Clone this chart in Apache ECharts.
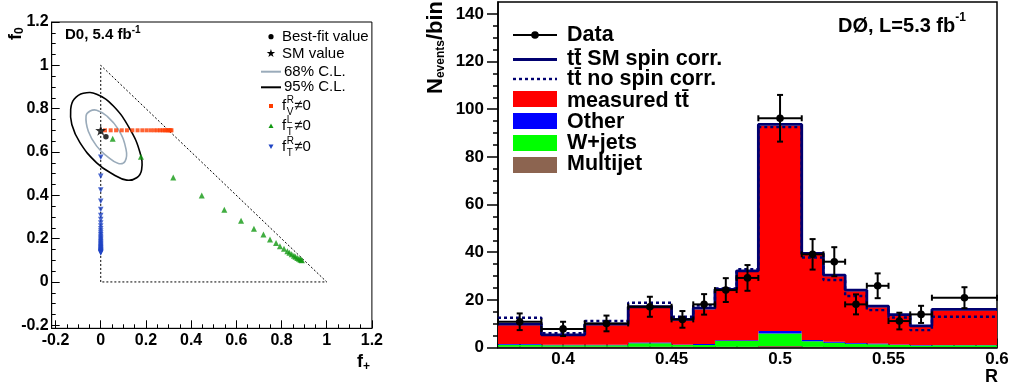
<!DOCTYPE html>
<html><head><meta charset="utf-8">
<script src="https://cdn.jsdelivr.net/npm/echarts@6/dist/echarts.min.js"></script>
<style>html,body{margin:0;padding:0;background:#fff}#c{width:1016px;height:389px}</style>
</head><body><div id="c"></div>
<script>
// ================= LEFT PANEL DATA =================
const triangleBoundary = [[0,0],[0,1],[1,0],[0,0]];
const contour68 = [[-0.065,0.766],[-0.047,0.789],[-0.018,0.793],[0.027,0.766],[0.078,0.704],[0.112,0.612],[0.108,0.558],[0.078,0.547],[0.027,0.581],[-0.018,0.627],[-0.055,0.696]];
const contour95 = [[-0.133,0.797],[-0.118,0.843],[-0.077,0.871],[-0.018,0.866],[0.056,0.812],[0.130,0.704],[0.174,0.596],[0.181,0.519],[0.159,0.481],[0.115,0.470],[0.056,0.496],[-0.018,0.550],[-0.092,0.643],[-0.128,0.727]];
const bestFit = [[0.023,0.670]];
const smValue = [[0,0.7]];
const fVR_points = [[0.019,0.7],[0.044,0.7],[0.068,0.7],[0.093,0.7],[0.116,0.7],[0.140,0.7],[0.163,0.7],[0.184,0.7],[0.203,0.7],[0.221,0.7],[0.237,0.7],[0.251,0.7],[0.263,0.7],[0.274,0.7],[0.283,0.7],[0.291,0.7],[0.298,0.7],[0.304,0.7],[0.309,0.7],[0.313,0.7]];
const fTL_points = [[0.053,0.661],[0.178,0.578],[0.321,0.482],[0.447,0.399],[0.547,0.333],[0.621,0.283],[0.678,0.245],[0.720,0.219],[0.749,0.196],[0.776,0.180],[0.793,0.165],[0.811,0.153],[0.826,0.142],[0.835,0.135],[0.845,0.128],[0.855,0.121],[0.862,0.116],[0.870,0.111],[0.877,0.107],[0.883,0.104],[0.887,0.102],[0.890,0.100]];
const fTR_points = [[0,0.576],[0,0.488],[0,0.424],[0,0.373],[0,0.334],[0,0.307],[0,0.288],[0,0.272],[0,0.258],[0,0.246],[0,0.235],[0,0.226],[0,0.218],[0,0.210],[0,0.203],[0,0.197],[0,0.191],[0,0.185],[0,0.180],[0,0.175],[0,0.170],[0,0.166],[0,0.162],[0,0.158],[0,0.154],[0,0.151],[0,0.148],[0,0.145],[0,0.142],[0,0.140],[0,0.138],[0,0.136],[0,0.134]];
const leftXTicks = [-0.2,0,0.2,0.4,0.6,0.8,1,1.2];
const leftYTicks = [-0.2,0,0.2,0.4,0.6,0.8,1,1.2];
const leftMinorTicks = [-0.15,-0.1,-0.05,0.05,0.1,0.15,0.25,0.3,0.35,0.45,0.5,0.55,0.65,0.7,0.75,0.85,0.9,0.95,1.05,1.1,1.15];

// ================= RIGHT PANEL DATA =================
const binEdges = [0.37,0.39,0.41,0.43,0.45,0.46,0.47,0.48,0.49,0.51,0.52,0.53,0.54,0.55,0.56,0.57,0.60];
const multijet  = [0.3,0.3,0.3,0.3,0.3,0.2,0.3,0.3,0.6,0.3,0.2,0.2,0.2,0.1,0.1,0.2];
const wjets     = [0.9,0.6,0.6,1.5,0.7,0.9,2.4,2.4,5.3,2.3,1.8,1.4,1.2,0.9,0.7,0.7];
const other     = [0.3,0.3,0.3,0.3,0.3,0.4,0.3,0.3,1.0,0.5,0.4,0.3,0.3,0.3,0.2,0.2];
const measuredTT= [7.8,3.6,8.1,14.5,10.0,14.5,20.9,28.7,86.2,35.9,27.5,21.7,15.2,12.0,7.6,14.4];
const smSpinCorr= [9.8,5.3,9.8,17.1,11.8,16.5,24.4,32.2,93.6,39.5,30.4,24.1,17.4,13.8,9.1,16.0];
const noSpinCorr= [12.5,6.0,11.1,18.8,12.9,17.6,24.8,32.9,92.5,37.8,28.3,21.6,15.7,12.6,7.3,12.9];
const dataValues= [10.8,7.8,10.1,17.1,11.8,18.1,24.1,29.2,96.2,39.1,36.0,18.1,25.9,11.1,13.9,20.9];
const dataErrors= [3.5,3.0,3.3,4.2,3.5,4.3,5.0,5.4,9.8,6.4,6.1,4.2,5.2,3.5,3.6,4.4];
const rightXTicks = [0.4,0.45,0.5,0.55,0.6];
const rightXMinor = [0.37,0.38,0.39,0.41,0.42,0.43,0.44,0.46,0.47,0.48,0.49,0.51,0.52,0.53,0.54,0.56,0.57,0.58,0.59];
const rightYTicks = [0,20,40,60,80,100,120,140];
const rightYMinor = [5,10,15,25,30,35,45,50,55,65,70,75,85,90,95,105,110,115,125,130,135];

// ================= HELPERS =================
const FF = 'Liberation Sans';
const mctx = document.createElement('canvas').getContext('2d');
function tw(s, size, weight){ mctx.font = (weight||'normal')+' '+size+'px "'+FF+'"'; return mctx.measureText(s).width; }
function T(x, y, s, size, weight, extra){
  return Object.assign({type:'text', x:x, y:y, silent:true, z:50,
    style:{text:s, fontFamily:FF, fontSize:size, fontWeight:weight||'normal', fill:'#000', align:'left', verticalAlign:'middle'}}, extra||{});
}
const NAVY = '#000070';
const C_RED = '#ff0000', C_BLUE = '#0000ff', C_GREEN = '#00ff00', C_BROWN = '#8c6450';

// stacked layers for histogram: rows [x0, x1, base, top]
const layers = [];
(function(){
  const comps = [[multijet, C_BROWN],[wjets, C_GREEN],[other, C_BLUE],[measuredTT, C_RED]];
  const base = binEdges.slice(0,-1).map(()=>0);
  comps.forEach(([vals,col])=>{
    const rows = vals.map((v,i)=>{ const r=[binEdges[i], binEdges[i+1], base[i], base[i]+v]; base[i]+=v; return r; });
    layers.push({rows, col});
  });
})();

// one seamless polygon per stacked layer
function layerRender(rows, color){
  return function(params, api){
    if (params.dataIndex !== 0) return null;
    const pts = [];
    rows.forEach(r=>{ pts.push(api.coord([r[0], r[3]])); pts.push(api.coord([r[1], r[3]])); });
    for (let i=rows.length-1;i>=0;i--){ const r=rows[i]; pts.push(api.coord([r[1], r[2]])); pts.push(api.coord([r[0], r[2]])); }
    return {type:'polygon', shape:{points:pts}, style:{fill:color}};
  };
}
function stepData(vals){ return binEdges.map((e,i)=>[e, vals[Math.min(i, vals.length-1)]]); }

const dataRows = dataValues.map((v,i)=>[(binEdges[i]+binEdges[i+1])/2, v, dataErrors[i], binEdges[i], binEdges[i+1]]);

function polyRender(points, color, w){
  return function(params, api){
    const pts = points.map(p=>api.coord(p));
    return {type:'polygon', shape:{points:pts, smooth:0.45}, style:{fill:'none', stroke:color, lineWidth:w}};
  };
}

const STAR = 'path://M0,-10 L2.35,-3.24 L9.51,-3.09 L3.8,1.24 L5.88,8.09 L0,4 L-5.88,8.09 L-3.8,1.24 L-9.51,-3.09 L-2.35,-3.24 Z';

// ================= AXES =================
const lblL = {fontSize:16, fontWeight:'bold', color:'#000', fontFamily:FF};
function vAxis(o){ return Object.assign({type:'value', splitLine:{show:false}, axisLine:{show:false, onZero:false}}, o); }
const xAxes = [
  vAxis({gridIndex:0, min:-0.217, max:1.2, position:'bottom',
    axisLine:{show:true, onZero:false, lineStyle:{color:'#000', width:1}},
    axisTick:{show:true, inside:true, length:8, lineStyle:{color:'#000', width:1}, customValues:leftXTicks},
    axisLabel:Object.assign({customValues:leftXTicks, margin:4}, lblL)}),
  vAxis({gridIndex:0, min:-0.217, max:1.2, position:'bottom',
    axisTick:{show:true, inside:true, length:4, lineStyle:{color:'#000', width:1}, customValues:leftMinorTicks},
    axisLabel:{show:false}}),
  vAxis({gridIndex:1, min:0.37, max:0.6, position:'bottom',
    axisLine:{show:true, onZero:false, lineStyle:{color:'#000', width:1.5}},
    axisTick:{show:true, inside:true, length:9, lineStyle:{color:'#000', width:1.5}, customValues:rightXTicks},
    axisLabel:Object.assign({customValues:rightXTicks, margin:3}, lblL, {fontSize:17})}),
  vAxis({gridIndex:1, min:0.37, max:0.6, position:'bottom',
    axisTick:{show:true, inside:true, length:5, lineStyle:{color:'#000', width:1.5}, customValues:rightXMinor},
    axisLabel:{show:false}})
];
const yAxes = [
  vAxis({gridIndex:0, min:-0.214, max:1.2, position:'left',
    axisLine:{show:true, onZero:false, lineStyle:{color:'#000', width:1}},
    axisTick:{show:true, inside:true, length:8, lineStyle:{color:'#000', width:1}, customValues:leftYTicks},
    axisLabel:Object.assign({customValues:leftYTicks, margin:3}, lblL)}),
  vAxis({gridIndex:0, min:-0.214, max:1.2, position:'left',
    axisTick:{show:true, inside:true, length:4, lineStyle:{color:'#000', width:1}, customValues:leftMinorTicks},
    axisLabel:{show:false}}),
  vAxis({gridIndex:1, min:0, max:145, position:'left',
    axisLine:{show:true, onZero:false, lineStyle:{color:'#000', width:1.5}},
    axisTick:{show:true, inside:false, length:11, lineStyle:{color:'#000', width:1.5}, customValues:rightYTicks},
    axisLabel:Object.assign({customValues:rightYTicks, margin:14}, lblL, {fontSize:17})}),
  vAxis({gridIndex:1, min:0, max:145, position:'left',
    axisTick:{show:true, inside:false, length:5, lineStyle:{color:'#000', width:1.5}, customValues:rightYMinor},
    axisLabel:{show:false}})
];

// ================= SERIES =================
const series = [];
// left panel
series.push({type:'line', xAxisIndex:0, yAxisIndex:0, data:triangleBoundary, symbol:'none', silent:true,
  lineStyle:{color:'#000', width:1, type:[2,2]}, z:2});
series.push({type:'custom', xAxisIndex:0, yAxisIndex:0, data:[[0,0]], renderItem:polyRender(contour95,'#000',1.6), silent:true, z:3});
series.push({type:'custom', xAxisIndex:0, yAxisIndex:0, data:[[0,0]], renderItem:polyRender(contour68,'#9aabba',1.6), silent:true, z:3});
series.push({type:'scatter', xAxisIndex:0, yAxisIndex:0, data:fTR_points, symbol:'triangle', symbolRotate:180, symbolSize:5.5, itemStyle:{color:'#1f44c4'}, silent:true, z:4});
series.push({type:'scatter', xAxisIndex:0, yAxisIndex:0, data:fTL_points, symbol:'triangle', symbolSize:6, itemStyle:{color:'#119911'}, silent:true, z:4});
series.push({type:'scatter', xAxisIndex:0, yAxisIndex:0, data:fVR_points, symbol:'rect', symbolSize:[4,4], itemStyle:{color:'#ff3c00'}, silent:true, z:4});
series.push({type:'scatter', xAxisIndex:0, yAxisIndex:0, data:smValue, symbol:STAR, symbolSize:11, itemStyle:{color:'#000'}, silent:true, z:5});
series.push({type:'scatter', xAxisIndex:0, yAxisIndex:0, data:bestFit, symbol:'circle', symbolSize:5.5, itemStyle:{color:'#000'}, silent:true, z:5});
// right panel: stacked histogram
layers.forEach(l=>{
  series.push({type:'custom', xAxisIndex:2, yAxisIndex:2, data:l.rows, renderItem:layerRender(l.rows, l.col), clip:true, silent:true, z:2});
});
series.push({type:'line', xAxisIndex:2, yAxisIndex:2, data:stepData(smSpinCorr), step:'end', symbol:'none', silent:true,
  lineStyle:{color:NAVY, width:2.8}, z:3});
series.push({type:'line', xAxisIndex:2, yAxisIndex:2, data:stepData(noSpinCorr), step:'end', symbol:'none', silent:true,
  lineStyle:{color:NAVY, width:2.4, type:[3,3]}, z:4});
series.push({type:'custom', xAxisIndex:2, yAxisIndex:2, data:dataRows, silent:true, z:6, clip:false,
  renderItem:function(params, api){
    const xc=api.value(0), y=api.value(1), e=api.value(2), x0=api.value(3), x1=api.value(4);
    const pc=api.coord([xc,y]), pl=api.coord([x0,y]), pr=api.coord([x1,y]);
    const pt=api.coord([xc,y+e]), pb=api.coord([xc,y-e]);
    const st={stroke:'#000', lineWidth:2};
    const c=3;
    return {type:'group', children:[
      {type:'line', shape:{x1:pl[0], y1:pl[1], x2:pr[0], y2:pr[1]}, style:st},
      {type:'line', shape:{x1:pt[0], y1:pt[1], x2:pb[0], y2:pb[1]}, style:st},
      {type:'line', shape:{x1:pl[0], y1:pl[1]-c, x2:pl[0], y2:pl[1]+c}, style:st},
      {type:'line', shape:{x1:pr[0], y1:pr[1]-c, x2:pr[0], y2:pr[1]+c}, style:st},
      {type:'line', shape:{x1:pt[0]-c, y1:pt[1], x2:pt[0]+c, y2:pt[1]}, style:st},
      {type:'line', shape:{x1:pb[0]-c, y1:pb[1], x2:pb[0]+c, y2:pb[1]}, style:st},
      {type:'circle', shape:{cx:pc[0], cy:pc[1], r:3.8}, style:{fill:'#000'}}
    ]};
  }});

// ================= TEXT / LEGENDS (graphic) =================
const g = [];
// left title
(function(){ const s='D0, 5.4 fb'; const w=tw(s,15,'bold'); g.push(T(65,35,s,15,'bold')); g.push(T(65+w,30,'-1',10,'bold')); })();
// right title
(function(){ const s='DØ, L=5.3 fb'; const w=tw(s,20,'bold'); g.push(T(838,26,s,20,'bold')); g.push(T(838+w,18,'-1',12,'bold')); })();
// left legend
g.push({type:'circle', shape:{cx:271, cy:36.7, r:2.6}, style:{fill:'#000'}, silent:true, z:50});
g.push(T(282,36.7,'Best-fit value',15));
g.push(T(265.5,54.3,'★',11));
g.push(T(282,54.3,'SM value',15));
g.push({type:'line', shape:{x1:261,y1:71.7,x2:281,y2:71.7}, style:{stroke:'#9aabba', lineWidth:2}, silent:true, z:50});
g.push(T(284,71.7,'68% C.L.',15));
g.push({type:'line', shape:{x1:261,y1:87.3,x2:281,y2:87.3}, style:{stroke:'#000', lineWidth:2}, silent:true, z:50});
g.push(T(284,87.3,'95% C.L.',15));
g.push({type:'rect', shape:{x:269,y:104,width:4,height:4}, style:{fill:'#ff3c00'}, silent:true, z:50});
g.push({type:'polygon', shape:{points:[[271,123.5],[268.5,128],[273.5,128]]}, style:{fill:'#119911'}, silent:true, z:50});
g.push({type:'polygon', shape:{points:[[271,149],[268.5,144.5],[273.5,144.5]]}, style:{fill:'#1f44c4'}, silent:true, z:50});
function fLabel(x, y, sup, sub){
  const fw = tw('f',15);
  g.push(T(x,y,'f',15));
  g.push(T(x+fw+0.5,y-6,sup,10));
  g.push(T(x+fw+0.5,y+6,sub,10));
  g.push(T(x+fw+8,y,'≠0',15));
}
fLabel(282,106,'R','V');
fLabel(282,126,'L','T');
fLabel(282,147,'R','T');
// left axis titles
(function(){
  const fw = tw('f',18,'bold');
  g.push({type:'group', x:16, y:40, rotation:Math.PI/2, children:[T(0,0,'f',18,'bold'), T(fw,4,'0',12,'bold')]});
  g.push(T(357,362,'f',18,'bold'));
  g.push(T(357+fw,367,'+',12,'bold'));
})();
// right axis titles
(function(){
  const nw = tw('N',22,'bold'), ew = tw('events',12,'bold');
  g.push({type:'group', x:436, y:94, rotation:Math.PI/2, children:[
    T(0,0,'N',22,'bold'), T(nw,5,'events',12,'bold'), T(nw+ew,0,'/bin',22,'bold')]});
  g.push(T(985,377,'R',18,'bold'));
})();
// right legend
const LX0=513, LX1=557, LT=567, LF=21.5, LW='bold';
g.push({type:'line', shape:{x1:LX0,y1:35,x2:LX1,y2:35}, style:{stroke:'#000', lineWidth:2}, silent:true, z:50});
g.push({type:'circle', shape:{cx:535,cy:35,r:3.8}, style:{fill:'#000'}, silent:true, z:50});
g.push(T(LT,35,'Data',LF,LW));
g.push({type:'line', shape:{x1:LX0,y1:59.5,x2:LX1,y2:59.5}, style:{stroke:NAVY, lineWidth:2.8}, silent:true, z:50});
g.push(T(LT,59.5,'tt\u0304 SM spin corr.',LF,LW));
g.push({type:'line', shape:{x1:LX0,y1:79,x2:LX1,y2:79}, style:{stroke:NAVY, lineWidth:2.4, lineDash:[3,3]}, silent:true, z:50});
g.push(T(LT,79,'tt\u0304 no spin corr.',LF,LW));
[[91,C_RED,'measured tt\u0304',101],[113,C_BLUE,'Other',122],[135,C_GREEN,'W+jets',143],[157,C_BROWN,'Multijet',164]].forEach(([y,c,s,ty])=>{
  g.push({type:'rect', shape:{x:LX0,y:y,width:LX1-LX0,height:16}, style:{fill:c}, silent:true, z:50});
  g.push(T(LT,ty,s,LF,LW));
});

const option = {
  animation:false,
  backgroundColor:'#fff',
  textStyle:{fontFamily:FF},
  grid:[
    {left:51.7, top:22, width:320.2, height:306.3, show:true, borderColor:'#000', borderWidth:1, backgroundColor:'transparent'},
    {left:498, top:2, width:499, height:345.5, show:true, borderColor:'#000', borderWidth:1.5, backgroundColor:'transparent'}
  ],
  xAxis:xAxes, yAxis:yAxes, series:series, graphic:g
};
const chart = echarts.init(document.getElementById('c'), null, {renderer:'canvas', devicePixelRatio:1});
chart.setOption(option);
</script></body></html>
